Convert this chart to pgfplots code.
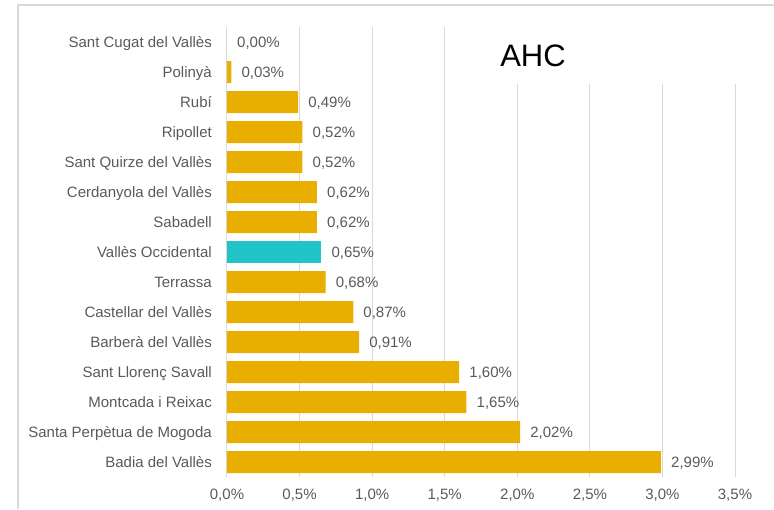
\documentclass[border=0pt]{standalone}
\usepackage{fontspec}
\setmainfont{Liberation Sans}
\usepackage{pgfplots}
\pgfplotsset{compat=1.18}
\definecolor{gold}{HTML}{E8AE00}
\definecolor{tealc}{HTML}{22C5C7}
\definecolor{gridc}{HTML}{D9D9D9}
\definecolor{txt}{HTML}{595959}
\begin{document}
\begin{tikzpicture}[x=1pt,y=1pt]
\path[use as bounding box] (0,0) rectangle (774,509);
\draw[gridc, line width=1.2pt] (18,0)--(18,504)--(774,504);
\begin{axis}[
  at={(227pt,32pt)}, anchor=south west, scale only axis,
  width=508pt, height=450pt,
  xmin=0, xmax=3.5, ymin=-0.5, ymax=14.5, y dir=reverse,
  xbar, bar width=22pt, bar shift=0pt,
  axis line style={draw=none}, major tick length=0pt,
  xmajorgrids, grid style={gridc, line width=1pt},
  xtick={0,0.5,1,1.5,2,2.5,3,3.5},
  xticklabels={{0,0\%},{0,5\%},{1,0\%},{1,5\%},{2,0\%},{2,5\%},{3,0\%},{3,5\%}},
  ytick={0,...,14},
  yticklabels={Sant Cugat del Vallès, Polinyà, Rubí, Ripollet, Sant Quirze del Vallès, Cerdanyola del Vallès, Sabadell, Vallès Occidental, Terrassa, Castellar del Vallès, Barberà del Vallès, Sant Llorenç Savall, Montcada i Reixac, Santa Perpètua de Mogoda, Badia del Vallès},
  tick label style={font=\fontsize{15}{18}\selectfont, text=txt, inner sep=0pt},
  yticklabel style={anchor=base east, xshift=-15pt, yshift=-5.4pt},
  xticklabel style={anchor=base, yshift=-22.5pt},
  point meta=explicit symbolic,
  nodes near coords={\pgfplotspointmeta\%},
  nodes near coords style={font=\fontsize{15}{18}\selectfont, text=txt, anchor=base west, inner sep=0pt, xshift=10pt, yshift=-5.4pt},
  clip=false,
]
\addplot[fill=gold, draw=none] coordinates {
  (0.00,0) [0,00]
  (0.03,1) [0,03]
  (0.49,2) [0,49]
  (0.52,3) [0,52]
  (0.52,4) [0,52]
  (0.62,5) [0,62]
  (0.62,6) [0,62]
  (0.68,8) [0,68]
  (0.87,9) [0,87]
  (0.91,10) [0,91]
  (1.60,11) [1,60]
  (1.65,12) [1,65]
  (2.02,13) [2,02]
  (2.99,14) [2,99]
};
\addplot[fill=tealc, draw=none] coordinates {
  (0.65,7) [0,65]
};
\end{axis}
\fill[white] (450,425) rectangle (745,483);
\node[anchor=base, inner sep=0pt, font=\fontsize{31}{36}\selectfont] at (533,442) {AHC};
\end{tikzpicture}
\end{document}
